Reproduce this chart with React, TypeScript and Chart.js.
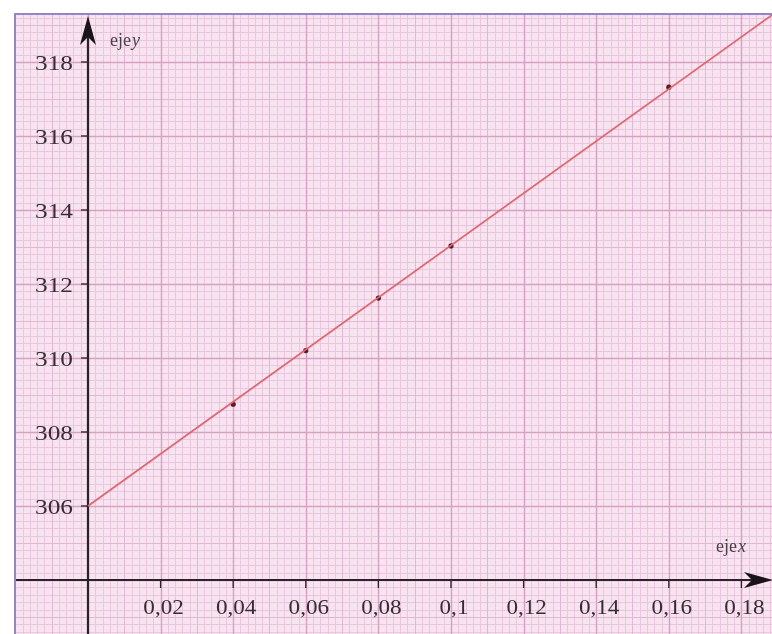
import React, { useEffect, useRef } from "react";
import { Chart, registerables } from "chart.js";

Chart.register(...registerables);

// Measured points
const pointX = [0.04, 0.06, 0.08, 0.1, 0.16];
const pointY = [308.75, 310.2, 311.62, 313.03, 317.32];

// Fitted straight line (drawn from the y-intercept towards the right edge)
const lineX = [0, 0.19];
const lineY = [306, 319.38];

// Tick labels
const xTicks = [0.02, 0.04, 0.06, 0.08, 0.1, 0.12, 0.14, 0.16, 0.18];
const yTicks = [306, 308, 310, 312, 314, 316, 318];

const X_MIN = -0.01983;
const X_MAX = 0.18843;
const Y_MIN = 302.54;
const Y_MAX = 319.27;
const AXIS_Y = 304; // where the x-axis crosses
const AXIS_X = 0; // where the y-axis crosses

const FONT = "'Liberation Serif', 'Times New Roman', serif";

const fmt = (v: number) => String(+v.toFixed(3)).replace(".", ",");

const paperPlugin = {
  id: "paper",
  beforeDatasetsDraw(chart: any) {
    const { ctx, chartArea, scales } = chart;
    const xs = scales.x;
    const ys = scales.y;
    ctx.save();
    ctx.fillStyle = "#f8e3f0";
    ctx.fillRect(chartArea.left, chartArea.top, chartArea.right - chartArea.left, chartArea.bottom - chartArea.top);
    const levelOf = (i: number) => (i % 10 === 0 ? 2 : i % 5 === 0 ? 1 : 0);
    const drawV = (level: number) => {
      for (let i = Math.ceil(X_MIN / 0.002); i * 0.002 <= X_MAX; i++) {
        if (levelOf(i) !== level) continue;
        const px = Math.round(xs.getPixelForValue(i * 0.002)) + 0.5;
        ctx.beginPath();
        ctx.moveTo(px, chartArea.top);
        ctx.lineTo(px, chartArea.bottom);
        ctx.stroke();
      }
    };
    const drawH = (level: number) => {
      for (let i = Math.ceil(Y_MIN / 0.2); i * 0.2 <= Y_MAX; i++) {
        if (levelOf(i) !== level) continue;
        const py = Math.round(ys.getPixelForValue(i * 0.2)) + 0.5;
        ctx.beginPath();
        ctx.moveTo(chartArea.left, py);
        ctx.lineTo(chartArea.right, py);
        ctx.stroke();
      }
    };
    const styles = [
      { c: "#eac7dd", w: 1 },
      { c: "#e2b8d3", w: 1 },
      { c: "#d6a2c4", w: 1.4 },
    ];
    for (let lv = 0; lv < 3; lv++) {
      ctx.strokeStyle = styles[lv].c;
      ctx.lineWidth = styles[lv].w;
      drawV(lv);
      drawH(lv);
    }

    // Axes
    const ax = xs.getPixelForValue(AXIS_X);
    const ay = ys.getPixelForValue(AXIS_Y);
    ctx.strokeStyle = "#2a2228";
    ctx.fillStyle = "#1a1418";
    ctx.lineWidth = 2.2;
    ctx.beginPath();
    ctx.moveTo(ax, chartArea.bottom);
    ctx.lineTo(ax, chartArea.top + 14);
    ctx.moveTo(chartArea.left, ay);
    ctx.lineTo(chartArea.right - 14, ay);
    ctx.stroke();
    // Arrow heads
    ctx.beginPath();
    ctx.moveTo(ax, chartArea.top + 1);
    ctx.lineTo(ax - 8, chartArea.top + 30);
    ctx.lineTo(ax, chartArea.top + 22);
    ctx.lineTo(ax + 8, chartArea.top + 30);
    ctx.closePath();
    ctx.fill();
    ctx.beginPath();
    ctx.moveTo(chartArea.right + 1, ay);
    ctx.lineTo(chartArea.right - 28, ay - 8);
    ctx.lineTo(chartArea.right - 20, ay);
    ctx.lineTo(chartArea.right - 28, ay + 8);
    ctx.closePath();
    ctx.fill();

    // Ticks and labels
    ctx.lineWidth = 1.3;
    ctx.fillStyle = "#362e34";
    ctx.font = `22px ${FONT}`;
    ctx.textAlign = "right";
    ctx.textBaseline = "middle";
    for (const v of yTicks) {
      const py = ys.getPixelForValue(v);
      ctx.beginPath();
      ctx.moveTo(ax - 7, py);
      ctx.lineTo(ax, py);
      ctx.stroke();
      ctx.save();
      ctx.translate(ax - 15, py + 2);
      ctx.scale(1.15, 1);
      ctx.fillText(String(v), 0, 0);
      ctx.restore();
    }
    ctx.font = `21px ${FONT}`;
    ctx.textAlign = "center";
    ctx.textBaseline = "middle";
    for (const v of xTicks) {
      const px = xs.getPixelForValue(v);
      ctx.beginPath();
      ctx.moveTo(px, ay);
      ctx.lineTo(px, ay + 8);
      ctx.stroke();
      ctx.save();
      ctx.translate(px + 3, ay + 29);
      ctx.scale(1.1, 1);
      ctx.fillText(fmt(v), 0, 0);
      ctx.restore();
    }

    // Axis names
    const drawName = (x: number, y: number, letter: string) => {
      ctx.textAlign = "left";
      ctx.textBaseline = "middle";
      ctx.font = `18px ${FONT}`;
      ctx.fillStyle = "#4a4248";
      ctx.fillText("eje", x, y);
      const w = ctx.measureText("eje").width;
      ctx.font = `italic 18px ${FONT}`;
      ctx.fillText(letter, x + w + 1, y);
    };
    drawName(ax + 22, chartArea.top + 26, "y");
    drawName(chartArea.right - 56, ay - 33, "x");
    ctx.restore();
  },
};

export default function App() {
  const ref = useRef<HTMLCanvasElement | null>(null);
  useEffect(() => {
    if (!ref.current) return;
    const chart = new Chart(ref.current, {
      type: "scatter",
      data: {
        datasets: [
          {
            type: "line",
            label: "recta",
            data: lineX.map((x, i) => ({ x, y: lineY[i] })),
            borderColor: "#e2646c",
            borderWidth: 1.7,
            pointRadius: 0,
            fill: false,
            tension: 0,
          } as any,
          {
            label: "puntos",
            data: pointX.map((x, i) => ({ x, y: pointY[i] })),
            backgroundColor: "#5a1a28",
            borderColor: "#5a1a28",
            pointRadius: 2.6,
            borderWidth: 0,
          },
        ],
      },
      options: {
        responsive: false,
        maintainAspectRatio: false,
        animation: false,
        layout: { padding: 0, autoPadding: false },
        plugins: {
          legend: { display: false },
          tooltip: { enabled: false },
          title: { display: false },
        },
        scales: {
          x: { type: "linear", min: X_MIN, max: X_MAX, display: false },
          y: { type: "linear", min: Y_MIN, max: Y_MAX, display: false },
        },
      },
      plugins: [paperPlugin],
    });
    return () => chart.destroy();
  }, []);
  return (
    <div
      style={{
        position: "absolute",
        left: 14,
        top: 13,
        borderLeft: "2px solid #9485c4",
        borderTop: "2px solid #9485c4",
        width: 756,
        height: 619,
      }}
    >
      <canvas ref={ref} width={756} height={619} style={{ display: "block" }} />
    </div>
  );
}
